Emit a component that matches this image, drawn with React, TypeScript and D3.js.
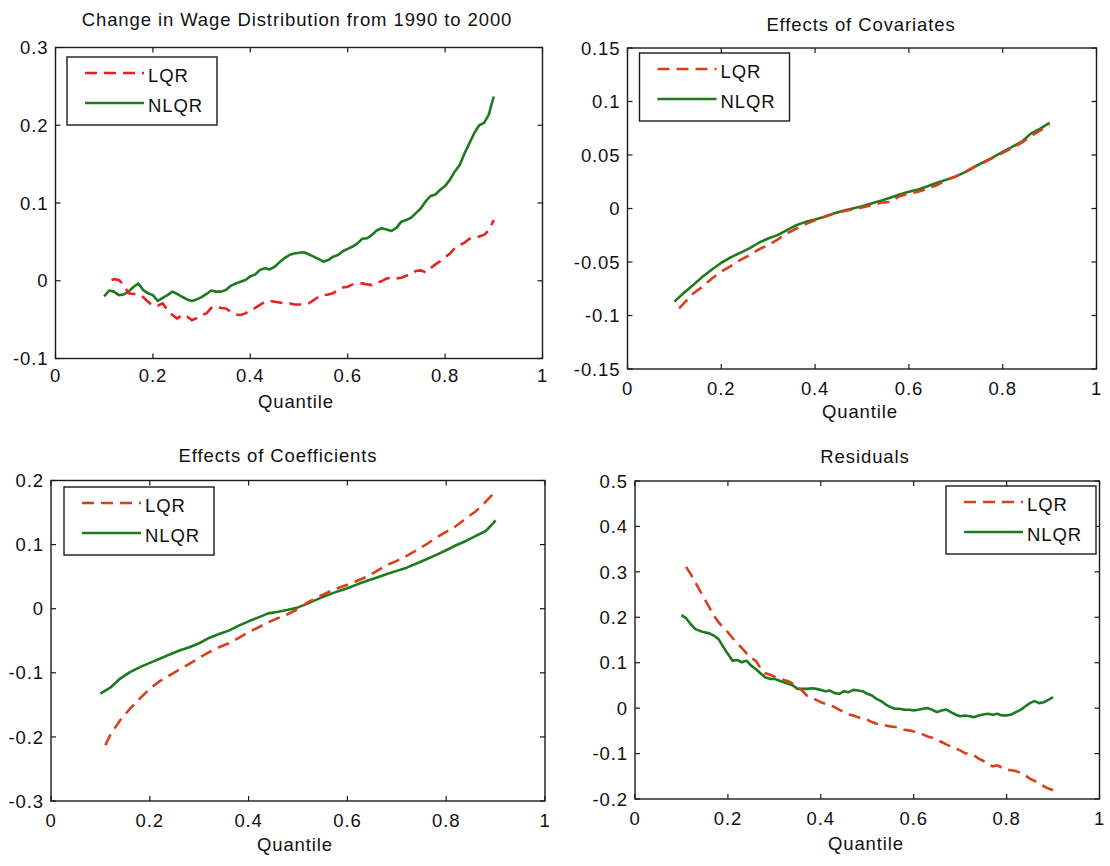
import React from "react";
import * as d3 from "d3";

// ---------- shared ----------
const xTicks = [0, 0.2, 0.4, 0.6, 0.8, 1];
const xTickLabels = ["0", "0.2", "0.4", "0.6", "0.8", "1"];
const xLabel = "Quantile";
const seriesNames = ["LQR", "NLQR"];

// ---------- panel 1 ----------
const p1Title = "Change in Wage Distribution from 1990 to 2000";
const p1YTicks = [-0.1, 0, 0.1, 0.2, 0.3];
const p1YLabels = ["-0.1", "0", "0.1", "0.2", "0.3"];
const p1NlqrQ = [0.10,0.11,0.12,0.13,0.14,0.15,0.16,0.17,0.18,0.19,0.20,0.21,0.22,0.23,0.24,0.25,0.26,0.27,0.28,0.29,0.30,0.31,0.32,0.33,0.34,0.35,0.36,0.37,0.38,0.39,0.40,0.41,0.42,0.43,0.44,0.45,0.46,0.47,0.48,0.49,0.50,0.51,0.52,0.53,0.54,0.55,0.56,0.57,0.58,0.59,0.60,0.61,0.62,0.63,0.64,0.65,0.66,0.67,0.68,0.69,0.70,0.71,0.72,0.73,0.74,0.75,0.76,0.77,0.78,0.79,0.80,0.81,0.82,0.83,0.84,0.85,0.86,0.87,0.88,0.89,0.895,0.90];
const p1Nlqr = [-0.020,-0.0125,-0.014,-0.0185,-0.0176,-0.014,-0.008,-0.0035,-0.012,-0.016,-0.0185,-0.026,-0.022,-0.0185,-0.014,-0.017,-0.0206,-0.024,-0.026,-0.024,-0.021,-0.017,-0.0125,-0.014,-0.014,-0.012,-0.0065,-0.0035,-0.0013,0.001,0.0056,0.008,0.014,0.016,0.0146,0.018,0.0237,0.029,0.033,0.035,0.036,0.0366,0.034,0.031,0.028,0.0245,0.0266,0.031,0.033,0.038,0.041,0.044,0.048,0.054,0.0546,0.059,0.065,0.0675,0.066,0.064,0.068,0.076,0.078,0.081,0.087,0.093,0.102,0.109,0.111,0.117,0.122,0.130,0.1406,0.149,0.164,0.177,0.190,0.200,0.203,0.214,0.226,0.237];
const p1LqrQ = [0.115,0.12,0.13,0.14,0.15,0.16,0.17,0.18,0.19,0.20,0.21,0.22,0.23,0.24,0.25,0.26,0.27,0.28,0.29,0.30,0.31,0.32,0.33,0.34,0.35,0.36,0.37,0.38,0.39,0.40,0.41,0.42,0.43,0.44,0.45,0.46,0.47,0.48,0.49,0.50,0.51,0.52,0.53,0.54,0.55,0.56,0.57,0.58,0.59,0.60,0.61,0.62,0.63,0.64,0.65,0.66,0.67,0.68,0.69,0.70,0.71,0.72,0.73,0.74,0.75,0.76,0.77,0.78,0.79,0.80,0.81,0.82,0.83,0.84,0.85,0.86,0.87,0.88,0.89,0.90];
const p1Lqr = [0.001,0.002,0.001,-0.005,-0.016,-0.017,-0.0176,-0.021,-0.027,-0.032,-0.032,-0.029,-0.038,-0.044,-0.0486,-0.044,-0.046,-0.0508,-0.048,-0.044,-0.042,-0.035,-0.0327,-0.035,-0.0357,-0.040,-0.0434,-0.044,-0.042,-0.038,-0.035,-0.031,-0.027,-0.026,-0.027,-0.028,-0.029,-0.029,-0.0305,-0.0305,-0.0305,-0.029,-0.025,-0.0206,-0.0185,-0.0176,-0.016,-0.012,-0.0086,-0.0077,-0.0047,-0.0034,-0.0034,-0.0047,-0.0056,-0.0026,-0.0004,0.003,0.0039,0.003,0.0039,0.0065,0.008,0.0125,0.0133,0.0108,0.016,0.021,0.025,0.030,0.035,0.042,0.046,0.049,0.054,0.055,0.057,0.059,0.065,0.078];

// ---------- panel 2 ----------
const p2Title = "Effects of Covariates";
const p2YTicks = [-0.15, -0.1, -0.05, 0, 0.05, 0.1, 0.15];
const p2YLabels = ["-0.15", "-0.1", "-0.05", "0", "0.05", "0.1", "0.15"];
const p2NlqrQ = [0.10,0.12,0.14,0.16,0.18,0.20,0.22,0.24,0.26,0.28,0.30,0.32,0.34,0.36,0.38,0.40,0.42,0.44,0.46,0.48,0.50,0.52,0.54,0.56,0.58,0.60,0.62,0.64,0.66,0.68,0.70,0.72,0.74,0.76,0.78,0.80,0.82,0.84,0.86,0.88,0.90];
const p2Nlqr = [-0.087,-0.079,-0.0716,-0.0638,-0.057,-0.0507,-0.0457,-0.0414,-0.0373,-0.032,-0.028,-0.0249,-0.0202,-0.0156,-0.0125,-0.0103,-0.0078,-0.0047,-0.0022,0.0,0.0022,0.0047,0.0072,0.010,0.013,0.0156,0.0177,0.0208,0.024,0.027,0.030,0.034,0.039,0.0436,0.048,0.053,0.0576,0.0622,0.070,0.0747,0.080];
const p2LqrQ = [0.11,0.12,0.14,0.16,0.18,0.20,0.22,0.24,0.26,0.28,0.30,0.32,0.34,0.36,0.38,0.40,0.42,0.44,0.46,0.48,0.50,0.52,0.54,0.56,0.58,0.60,0.62,0.64,0.66,0.68,0.70,0.72,0.74,0.76,0.78,0.80,0.82,0.84,0.86,0.88,0.90];
const p2Lqr = [-0.0934,-0.0887,-0.0794,-0.0731,-0.0654,-0.059,-0.0538,-0.0482,-0.0436,-0.0383,-0.0342,-0.029,-0.0233,-0.0187,-0.0146,-0.0109,-0.0078,-0.0047,-0.0025,-0.0009,0.0009,0.003,0.0053,0.0062,0.0115,0.014,0.0156,0.0187,0.0218,0.0265,0.030,0.034,0.039,0.043,0.0476,0.052,0.0566,0.0613,0.0675,0.0731,0.0778];

// ---------- panel 3 ----------
const p3Title = "Effects of Coefficients";
const p3YTicks = [-0.3, -0.2, -0.1, 0, 0.1, 0.2];
const p3YLabels = ["-0.3", "-0.2", "-0.1", "0", "0.1", "0.2"];
const p3NlqrQ = [0.10,0.12,0.14,0.16,0.18,0.20,0.22,0.24,0.26,0.28,0.30,0.32,0.34,0.36,0.38,0.40,0.42,0.44,0.46,0.48,0.50,0.52,0.54,0.56,0.58,0.60,0.62,0.64,0.66,0.68,0.70,0.72,0.74,0.76,0.78,0.80,0.82,0.84,0.86,0.88,0.89,0.90];
const p3Nlqr = [-0.1326,-0.1233,-0.109,-0.099,-0.0912,-0.0845,-0.0782,-0.0715,-0.0653,-0.0601,-0.0539,-0.0456,-0.0394,-0.0342,-0.0264,-0.0197,-0.0135,-0.0073,-0.0047,-0.0016,0.002,0.0083,0.015,0.0212,0.027,0.032,0.038,0.0435,0.0487,0.054,0.059,0.064,0.0705,0.0772,0.0839,0.0912,0.099,0.1057,0.1135,0.1212,0.129,0.1378];
const p3LqrQ = [0.11,0.12,0.14,0.16,0.18,0.20,0.22,0.24,0.26,0.28,0.30,0.32,0.34,0.36,0.38,0.40,0.42,0.44,0.46,0.48,0.50,0.52,0.54,0.56,0.58,0.60,0.62,0.64,0.66,0.68,0.70,0.72,0.74,0.76,0.78,0.80,0.82,0.84,0.86,0.88,0.90];
const p3Lqr = [-0.213,-0.197,-0.174,-0.156,-0.140,-0.125,-0.113,-0.104,-0.095,-0.086,-0.0767,-0.0679,-0.0601,-0.0539,-0.0456,-0.0368,-0.029,-0.0212,-0.0145,-0.0083,-0.0005,0.0098,0.0176,0.0254,0.032,0.0373,0.0435,0.050,0.059,0.068,0.0746,0.0824,0.0912,0.1005,0.111,0.120,0.129,0.141,0.152,0.167,0.1834];

// ---------- panel 4 ----------
const p4Title = "Residuals";
const p4YTicks = [-0.2, -0.1, 0, 0.1, 0.2, 0.3, 0.4, 0.5];
const p4YLabels = ["-0.2", "-0.1", "0", "0.1", "0.2", "0.3", "0.4", "0.5"];
const p4NlqrQ = [0.10,0.11,0.12,0.13,0.14,0.15,0.16,0.17,0.18,0.19,0.20,0.21,0.22,0.23,0.24,0.25,0.26,0.27,0.28,0.29,0.30,0.31,0.32,0.33,0.34,0.35,0.36,0.37,0.38,0.39,0.40,0.41,0.42,0.43,0.44,0.45,0.46,0.47,0.48,0.49,0.50,0.51,0.52,0.53,0.54,0.55,0.56,0.57,0.58,0.59,0.60,0.61,0.62,0.63,0.64,0.65,0.66,0.67,0.68,0.69,0.70,0.71,0.72,0.73,0.74,0.75,0.76,0.77,0.78,0.79,0.80,0.81,0.82,0.83,0.84,0.85,0.86,0.87,0.88,0.89,0.90];
const p4Nlqr = [0.2048,0.198,0.185,0.174,0.170,0.1668,0.1646,0.1595,0.152,0.135,0.119,0.1046,0.106,0.101,0.1046,0.0936,0.0863,0.0768,0.068,0.0644,0.0644,0.0607,0.057,0.0534,0.0497,0.0424,0.0424,0.0424,0.0439,0.0424,0.0402,0.0373,0.0388,0.033,0.0315,0.0373,0.0351,0.0402,0.0388,0.0373,0.0315,0.0278,0.0205,0.0154,0.008,0.0022,-0.0015,-0.0015,-0.0037,-0.0037,-0.005,-0.0037,-0.0015,0.0,-0.0037,-0.0088,-0.005,-0.003,-0.0088,-0.014,-0.018,-0.016,-0.018,-0.0198,-0.016,-0.014,-0.0124,-0.0146,-0.0124,-0.016,-0.016,-0.014,-0.0088,-0.0037,0.0037,0.011,0.0154,0.011,0.013,0.0183,0.0241];
const p4LqrQ = [0.11,0.12,0.13,0.14,0.15,0.16,0.17,0.18,0.19,0.20,0.21,0.22,0.23,0.24,0.25,0.26,0.27,0.28,0.29,0.30,0.31,0.32,0.33,0.34,0.35,0.36,0.37,0.38,0.39,0.40,0.41,0.42,0.43,0.44,0.45,0.46,0.47,0.48,0.49,0.50,0.51,0.52,0.53,0.54,0.55,0.56,0.57,0.58,0.59,0.60,0.61,0.62,0.63,0.64,0.65,0.66,0.67,0.68,0.69,0.70,0.71,0.72,0.73,0.74,0.75,0.76,0.77,0.78,0.79,0.80,0.81,0.82,0.83,0.84,0.85,0.86,0.87,0.88,0.89,0.90];
const p4Lqr = [0.311,0.295,0.2765,0.258,0.240,0.2216,0.2034,0.1887,0.1778,0.1668,0.1544,0.1426,0.1324,0.1207,0.1105,0.1046,0.0885,0.0768,0.0739,0.0695,0.0666,0.0622,0.0593,0.0534,0.0461,0.0388,0.0278,0.0241,0.0183,0.0132,0.0095,0.0059,0.0022,-0.0037,-0.0088,-0.014,-0.016,-0.0198,-0.0234,-0.0256,-0.0307,-0.0344,-0.0358,-0.038,-0.0402,-0.0417,-0.0432,-0.0476,-0.049,-0.0512,-0.0549,-0.0578,-0.0622,-0.0651,-0.0695,-0.0746,-0.0797,-0.0841,-0.0892,-0.0929,-0.0988,-0.1017,-0.1039,-0.1112,-0.1163,-0.1236,-0.128,-0.1258,-0.131,-0.1353,-0.1368,-0.1383,-0.1426,-0.1477,-0.155,-0.1602,-0.166,-0.1719,-0.177,-0.1807];

const FONT = "'Liberation Sans', Arial, Helvetica, sans-serif";
const FS = 18.5;
const LS = 0.9;
const GREEN = "#1e7a1e";

type PanelCfg = {
  title: string;
  yTicks: number[];
  yLabels: string[];
  yDomain: [number, number];
  lqrQ: number[]; lqr: number[];
  nlqrQ: number[]; nlqr: number[];
  box: { l: number; r: number; t: number; b: number };
  titlePos: [number, number];
  xTickY: number;
  xLabelPos: [number, number];
  legend: [number, number];
  red: string;
};

function Panel({ c }: { c: PanelCfg }) {
  const x = d3.scaleLinear().domain([0, 1]).range([c.box.l, c.box.r]);
  const y = d3.scaleLinear().domain(c.yDomain).range([c.box.b, c.box.t]);
  const line = d3.line<[number, number]>().x(d => x(d[0])).y(d => y(d[1]));
  const lqrPts = c.lqrQ.map((q, i) => [q, c.lqr[i]] as [number, number]);
  const nlqrPts = c.nlqrQ.map((q, i) => [q, c.nlqr[i]] as [number, number]);
  const tl = 5;
  const [lx, ly] = c.legend;
  const axisColor = "#1a1a1a";
  return (
    <g>
      <rect x={c.box.l} y={c.box.t} width={c.box.r - c.box.l} height={c.box.b - c.box.t}
        fill="#fff" stroke="none" />
      <path d={line(nlqrPts) || ""} fill="none" stroke={GREEN} strokeWidth={2.6} strokeLinejoin="round" />
      <path d={line(lqrPts) || ""} fill="none" stroke={c.red} strokeWidth={2.6} strokeDasharray="12,7" />
      {/* ticks */}
      {xTicks.map((t, i) => (
        <g key={"xt" + i}>
          <line x1={x(t)} x2={x(t)} y1={c.box.b} y2={c.box.b - tl} stroke={axisColor} strokeWidth={1.2} />
          <line x1={x(t)} x2={x(t)} y1={c.box.t} y2={c.box.t + tl} stroke={axisColor} strokeWidth={1.2} />
          <text x={x(t)} y={c.xTickY} textAnchor="middle" fontSize={FS} letterSpacing={LS}
            fontFamily={FONT} fill="#111">{xTickLabels[i]}</text>
        </g>
      ))}
      {c.yTicks.map((t, i) => (
        <g key={"yt" + i}>
          <line x1={c.box.l} x2={c.box.l + tl} y1={y(t)} y2={y(t)} stroke={axisColor} strokeWidth={1.2} />
          <line x1={c.box.r} x2={c.box.r - tl} y1={y(t)} y2={y(t)} stroke={axisColor} strokeWidth={1.2} />
          <text x={c.box.l - 7} y={y(t)} dy="0.36em" textAnchor="end" fontSize={FS} letterSpacing={LS}
            fontFamily={FONT} fill="#111">{c.yLabels[i]}</text>
        </g>
      ))}
      <rect x={c.box.l} y={c.box.t} width={c.box.r - c.box.l} height={c.box.b - c.box.t}
        fill="none" stroke={axisColor} strokeWidth={1.4} />
      {/* legend */}
      <rect x={lx} y={ly} width={150} height={68} fill="#fff" stroke={axisColor} strokeWidth={1.4} />
      <line x1={lx + 18} x2={lx + 77} y1={ly + 16} y2={ly + 16} stroke={c.red} strokeWidth={2.6} strokeDasharray="12,7" />
      <line x1={lx + 18} x2={lx + 77} y1={ly + 46} y2={ly + 46} stroke={GREEN} strokeWidth={2.6} />
      <text x={lx + 81} y={ly + 24.5} fontSize={FS} letterSpacing={LS} fontFamily={FONT} fill="#111">{seriesNames[0]}</text>
      <text x={lx + 81} y={ly + 54.5} fontSize={FS} letterSpacing={LS} fontFamily={FONT} fill="#111">{seriesNames[1]}</text>
      {/* titles */}
      <text x={c.titlePos[0]} y={c.titlePos[1]} textAnchor="middle" fontSize={FS} letterSpacing={LS}
        fontFamily={FONT} fill="#111">{c.title}</text>
      <text x={c.xLabelPos[0]} y={c.xLabelPos[1]} textAnchor="middle" fontSize={FS} letterSpacing={LS}
        fontFamily={FONT} fill="#111">{xLabel}</text>
    </g>
  );
}

export default function App() {
  const panels: PanelCfg[] = [
    {
      title: p1Title, yTicks: p1YTicks, yLabels: p1YLabels, yDomain: [-0.1, 0.3],
      lqrQ: p1LqrQ, lqr: p1Lqr, nlqrQ: p1NlqrQ, nlqr: p1Nlqr,
      box: { l: 55.5, r: 542.5, t: 47.5, b: 358.5 },
      titlePos: [297, 26], xTickY: 382, xLabelPos: [296, 408], legend: [67, 57], red: "#e8231f",
    },
    {
      title: p2Title, yTicks: p2YTicks, yLabels: p2YLabels, yDomain: [-0.15, 0.15],
      lqrQ: p2LqrQ, lqr: p2Lqr, nlqrQ: p2NlqrQ, nlqr: p2Nlqr,
      box: { l: 627.5, r: 1096.5, t: 48, b: 369 },
      titlePos: [861, 30.5], xTickY: 395, xLabelPos: [860, 418], legend: [639.5, 53], red: "#d6401c",
    },
    {
      title: p3Title, yTicks: p3YTicks, yLabels: p3YLabels, yDomain: [-0.3, 0.2],
      lqrQ: p3LqrQ, lqr: p3Lqr, nlqrQ: p3NlqrQ, nlqr: p3Nlqr,
      box: { l: 51, r: 545, t: 480.5, b: 801 },
      titlePos: [278, 461.5], xTickY: 827, xLabelPos: [295, 851], legend: [64, 487], red: "#d6401c",
    },
    {
      title: p4Title, yTicks: p4YTicks, yLabels: p4YLabels, yDomain: [-0.2, 0.5],
      lqrQ: p4LqrQ, lqr: p4Lqr, nlqrQ: p4NlqrQ, nlqr: p4Nlqr,
      box: { l: 635, r: 1099.5, t: 481, b: 799 },
      titlePos: [865, 463], xTickY: 825, xLabelPos: [866, 850], legend: [946, 486], red: "#d6401c",
    },
  ];
  return (
    <svg width={1110} height={866} style={{ position: "absolute", left: 0, top: 0, background: "#fff" }}>
      <rect x={0} y={0} width={1110} height={866} fill="#fff" />
      {panels.map((p, i) => <Panel key={i} c={p} />)}
    </svg>
  );
}
